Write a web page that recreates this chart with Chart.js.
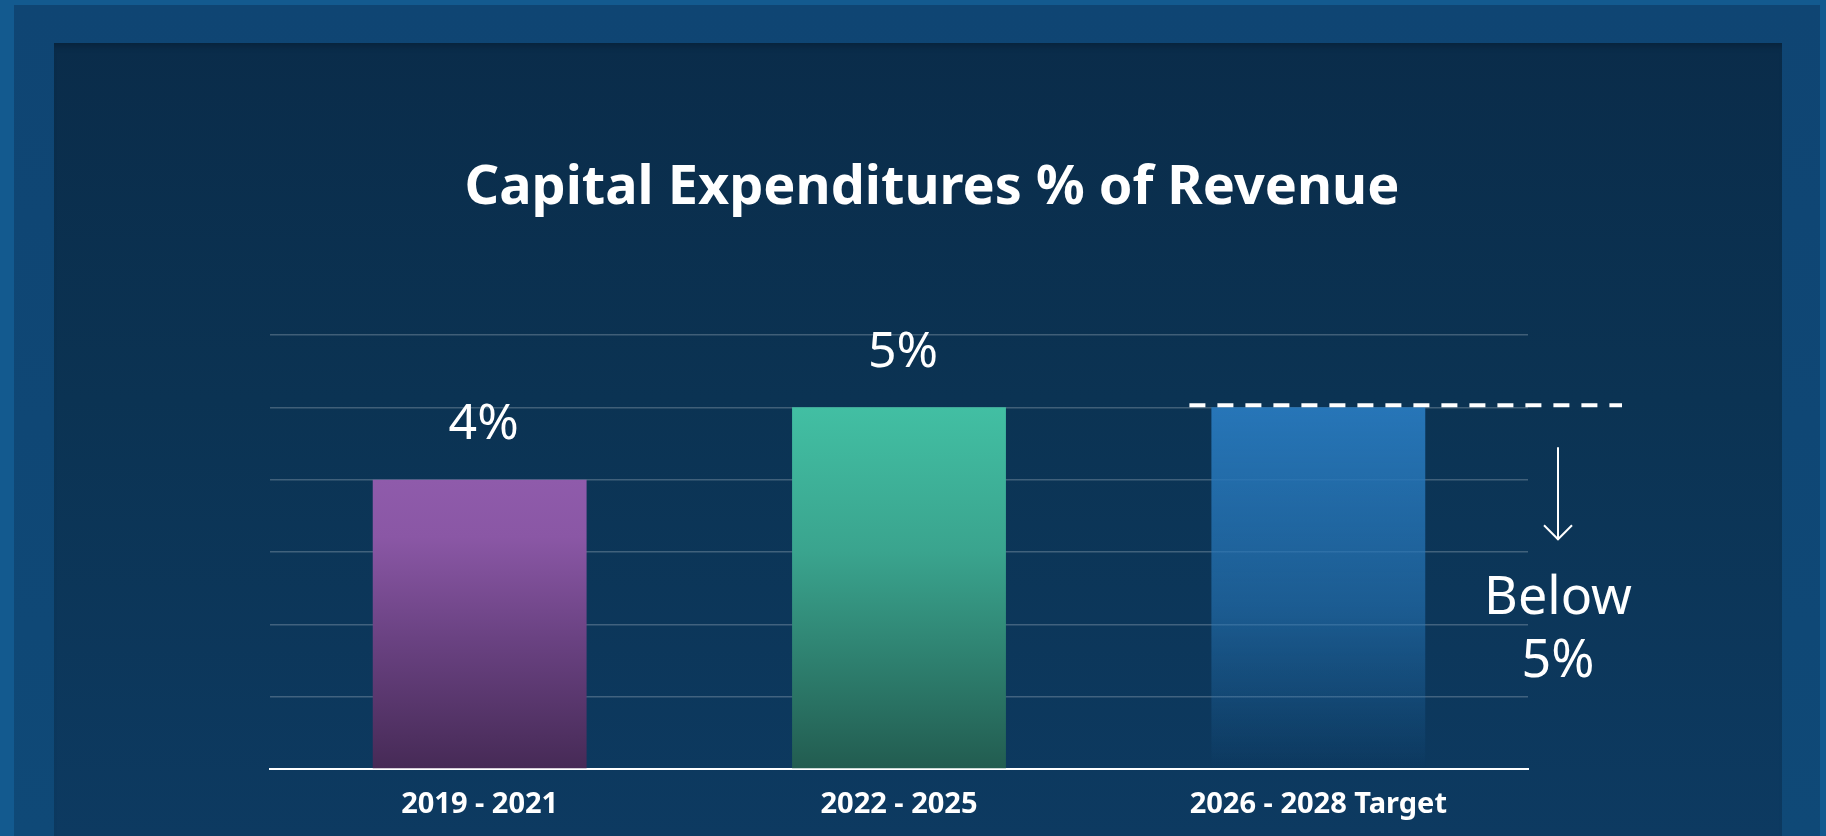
<!DOCTYPE html>
<html>
<head>
<meta charset="utf-8">
<script src="https://cdn.jsdelivr.net/npm/chart.js@4.4.0/dist/chart.umd.min.js"></script>
<style>
  html, body { margin: 0; padding: 0; width: 1826px; height: 836px; overflow: hidden; }
  body { background: #135a8f; position: relative; font-family: "Noto Sans", sans-serif; }
  #frame { position: absolute; left: 14px; top: 5px; width: 1806px; height: 831px; background: linear-gradient(#0f4573, #0f4977); }
  #panel { position: absolute; left: 54px; top: 43px; width: 1728px; height: 793px;
           background: linear-gradient(#0a2c4a 0%, #0b3353 45%, #0d3a61 100%);
           box-shadow: inset 0 7px 6px -4px rgba(0, 0, 0, 0.22); }
  #wrap { position: absolute; left: 0; top: 0; width: 1826px; height: 836px; }
</style>
</head>
<body>
<div id="frame"></div>
<div id="panel"></div>
<div id="wrap"><canvas id="capexChart"></canvas></div>
<script>
// chart data
const chartTitle = 'Capital Expenditures % of Revenue';
const categories = ['2019 - 2021', '2022 - 2025', '2026 - 2028 Target'];
const capexPct = [4, 5, 5];
const valueLabels = ['4%', '5%', ''];
const targetValue = 5;
const targetText = ['Below', '5%'];
const yTicks = [0, 1, 2, 3, 4, 5, 6];

// gradient stops per bar (top -> bottom)
const barGradients = [
    [[0, '#8f5bab'], [0.2, '#8a57a5'], [0.55, '#6a4282'], [1, '#462a56']],
    [[0, '#42bfa3'], [0.4, '#3aa48e'], [1, '#225c50']],
    [[0, 'rgba(39,118,184,1)'], [0.55, 'rgba(39,118,184,0.6)'], [1, 'rgba(39,118,184,0)']]
];

function barFill(ctx) {
    const chart = ctx.chart;
    const yScale = chart.scales.y;
    const i = ctx.dataIndex;
    if (!yScale || i === undefined) return '#8f5bab';
    const top = yScale.getPixelForValue(capexPct[i]);
    const bottom = yScale.getPixelForValue(0);
    if (!isFinite(top) || !isFinite(bottom)) return barGradients[i][0][1];
    const g = chart.ctx.createLinearGradient(0, top, 0, bottom);
    barGradients[i].forEach(function(s) { g.addColorStop(s[0], s[1]); });
    return g;
}

const overlayPlugin = {
    id: 'overlay',
    afterDraw(chart) {
        const ctx = chart.ctx;
        const area = chart.chartArea;
        const y = chart.scales.y;
        const meta = chart.getDatasetMeta(0);

        ctx.save();
        ctx.fillStyle = '#ffffff';
        ctx.strokeStyle = '#ffffff';
        ctx.textAlign = 'center';
        ctx.textBaseline = 'middle';

        // title
        ctx.font = 'bold 54px "Noto Sans"';
        ctx.fillText(chartTitle, (area.left + area.right) / 2 + 33, 189);

        // value labels above bars
        ctx.font = '400 50px "Noto Sans"';
        meta.data.forEach(function(bar, i) {
            if (valueLabels[i]) ctx.fillText(valueLabels[i], bar.x + 4, bar.y - 55);
        });

        // target line
        const tBar = meta.data[2];
        const ty = y.getPixelForValue(targetValue) - 2;
        ctx.lineWidth = 4;
        ctx.setLineDash([16, 12]);
        ctx.beginPath();
        ctx.moveTo(tBar.x - tBar.width / 2 - 22, ty);
        ctx.lineTo(area.right + 94, ty);
        ctx.stroke();

        // arrow down
        const ax = area.right + 30;
        ctx.setLineDash([]);
        ctx.lineWidth = 2;
        ctx.beginPath();
        ctx.moveTo(ax, ty + 42);
        ctx.lineTo(ax, ty + 134);
        ctx.moveTo(ax - 14, ty + 120);
        ctx.lineTo(ax, ty + 134);
        ctx.lineTo(ax + 14, ty + 120);
        ctx.stroke();

        ctx.font = '400 52px "Noto Sans"';
        ctx.fillText(targetText[0], ax, ty + 194);
        ctx.fillText(targetText[1], ax, ty + 257);
        ctx.restore();
    }
};

new Chart(document.getElementById('capexChart'), {
    type: 'bar',
    data: {
        labels: categories,
        datasets: [{
            data: capexPct,
            backgroundColor: barFill,
            borderWidth: 0,
            categoryPercentage: 1,
            barPercentage: 0.51
        }]
    },
    options: {
        responsive: true,
        maintainAspectRatio: false,
        animation: false,
        layout: {
            padding: { left: 270, right: 298, top: 335, bottom: -5 }
        },
        plugins: {
            legend: { display: false },
            tooltip: { enabled: false },
            title: { display: false }
        },
        scales: {
            x: {
                z: 1,
                grid: { display: false, drawTicks: false },
                border: { display: true, color: '#ffffff', width: 2 },
                ticks: {
                    color: '#ffffff',
                    padding: 23,
                    font: { family: '"Noto Sans"', size: 29, weight: 'bold', lineHeight: 0.9 }
                }
            },
            y: {
                min: yTicks[0],
                max: yTicks[yTicks.length - 1],
                afterBuildTicks: function(scale) {
                    scale.ticks = yTicks.map(function(v) { return { value: v }; });
                },
                grid: { color: 'rgba(255,255,255,0.22)', lineWidth: 1.5, drawTicks: false },
                border: { display: false },
                ticks: { display: false }
            }
        }
    },
    plugins: [overlayPlugin]
});
</script>
</body>
</html>
